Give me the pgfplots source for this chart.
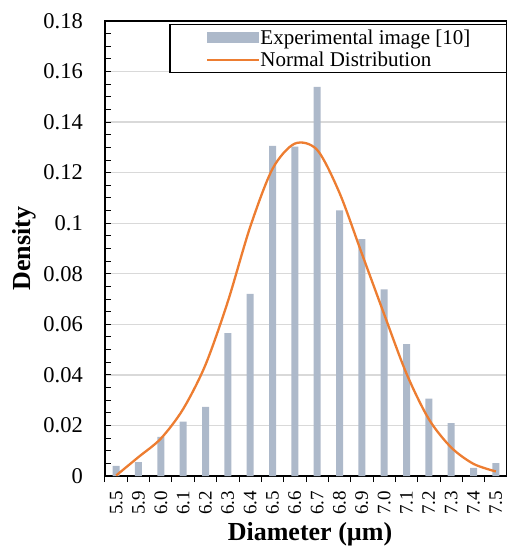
\documentclass[border=0pt]{standalone}
\usepackage{pgfplots}
\pgfplotsset{compat=1.18}
\usepackage{fontspec}
\setmainfont{Liberation Serif}
\definecolor{barc}{HTML}{ADB9CA}
\definecolor{linec}{HTML}{ED7D31}
\definecolor{gridc}{HTML}{D9D9D9}
\begin{document}
\begin{tikzpicture}
\begin{axis}[
  name=ax,
  scale only axis,
  width=402pt, height=455pt,
  xmin=-0.5, xmax=17.5,
  ymin=0, ymax=0.18,
  /pgf/number format/assume math mode=true,
  xtick={0,1,2,3,4,5,6,7,8,9,10,11,12,13,14,15,16,17},
  xticklabels={5.5,5.9,6.0,6.1,6.2,6.3,6.4,6.5,6.6,6.7,6.8,6.9,7.0,7.1,7.2,7.3,7.4,7.5},
  minor xtick={-0.5,0.5,1.5,2.5,3.5,4.5,5.5,6.5,7.5,8.5,9.5,10.5,11.5,12.5,13.5,14.5,15.5,16.5,17.5},
  major x tick style={draw=none},
  minor x tick style={yshift=-6pt},
  ytick={0,0.02,0.04,0.06,0.08,0.1,0.12,0.14,0.16,0.18},
  yticklabels={0,0.02,0.04,0.06,0.08,0.1,0.12,0.14,0.16,0.18},
  minor y tick num=3,
  major tick length=6pt, minor tick length=6pt,
  tick style={black, line width=1pt},
  xtick pos=bottom, ytick pos=left,
  ymajorgrids,
  major grid style={gridc, line width=1.3pt},
  axis line style={black, line width=1.5pt},
  yticklabel style={font=\fontsize{22.5}{22.5}\selectfont, inner sep=0pt, xshift=-22pt},
  xticklabel style={font=\fontsize{19}{19}\selectfont, yshift=-15pt, rotate=90, anchor=east, inner sep=0pt},
  ylabel={\textbf{Density}},
  ylabel style={font=\fontsize{26}{26}\selectfont, at={(axis description cs:-0.2015,0.5)}, anchor=center, inner sep=0pt},
  xlabel={\textbf{Diameter (µm)}},
  xlabel style={font=\fontsize{26}{26}\selectfont, at={(axis description cs:0.51,0)}, anchor=north, yshift=-46pt, inner sep=0pt},
  legend style={at={(1,1)}, anchor=north east, yshift=-3pt, draw=black, line width=1.3pt,
     font=\fontsize{21}{21}\selectfont, inner xsep=36pt, inner ysep=5pt, row sep=6pt,
     nodes={inner sep=0pt}, /tikz/every even column/.append style={column sep=4pt}},
  legend cell align=left,
  clip=false,
]
\addplot[ybar, bar width=7pt, fill=barc, draw=none,
  legend image code/.code={\fill[barc] (0pt,-5.5pt) rectangle (52pt,5.5pt);}]
  coordinates {
  (0,0.0040) (1,0.0055) (2,0.0155) (3,0.0215) (4,0.0273) (5,0.0565)
  (6,0.0720) (7,0.1306) (8,0.1303) (9,0.1539) (10,0.1051) (11,0.0937)
  (12,0.0738) (13,0.0522) (14,0.0306) (15,0.0209) (16,0.0032) (17,0.0051)};
\addlegendentry{Experimental image [10]}
\addplot[smooth, tension=0.5, linec, line width=2.3pt,
  legend image code/.code={\draw[linec, line width=2.3pt] (0pt,0pt) -- (52pt,0pt);}]
  coordinates {
  (0,0.0002) (1,0.0075) (2,0.0148) (3,0.0265) (4,0.0440) (5,0.0690)
  (6,0.0985) (7,0.1215) (8,0.1315) (9,0.1290) (10,0.1120) (11,0.0880)
  (12,0.0640) (13,0.0405) (14,0.0225) (15,0.0113) (16,0.0048) (17,0.0018)};
\addlegendentry{Normal Distribution}
\end{axis}
\pgfresetboundingbox
\useasboundingbox ([xshift=-105pt,yshift=21pt]ax.north west) rectangle ([yshift=-72pt]ax.south east);
\end{tikzpicture}
\end{document}
